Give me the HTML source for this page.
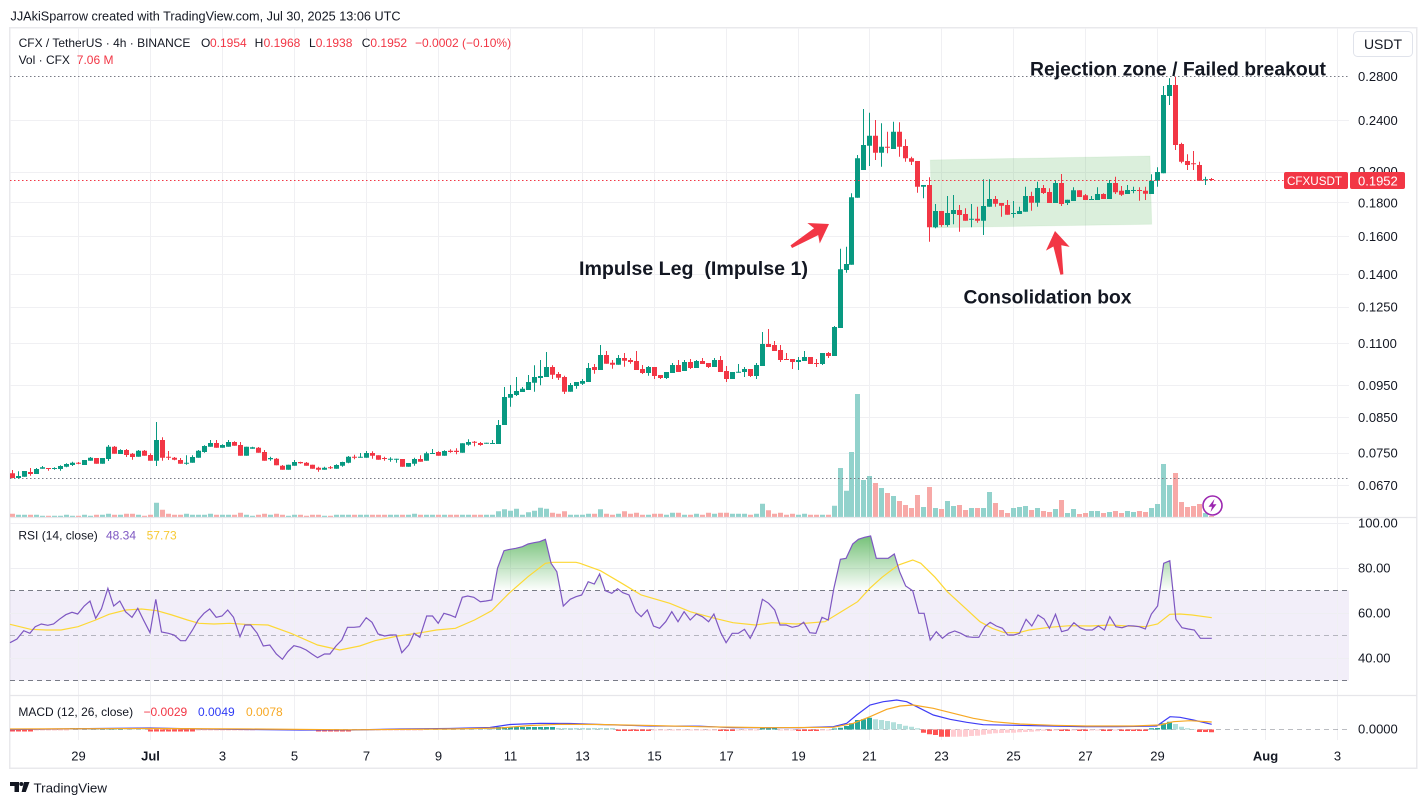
<!DOCTYPE html>
<html><head><meta charset="utf-8">
<style>
html,body{margin:0;padding:0;background:#fff;}
svg{display:block;font-family:"Liberation Sans",Arial,sans-serif;}
</style></head><body>
<svg width="1427" height="804" viewBox="0 0 1427 804" xmlns="http://www.w3.org/2000/svg">
<defs>
<linearGradient id="gg" x1="0" y1="530" x2="0" y2="591" gradientUnits="userSpaceOnUse">
<stop offset="0" stop-color="#4caf50" stop-opacity="0.85"/>
<stop offset="1" stop-color="#4caf50" stop-opacity="0"/>
</linearGradient>
<clipPath id="ob"><rect x="10" y="518" width="1339" height="72.5"/></clipPath>
</defs>
<rect width="1427" height="804" fill="#fff"/>

<text x="10.5" y="20.5" font-size="13" fill="#131722" textLength="390" lengthAdjust="spacingAndGlyphs">JJAkiSparrow created with TradingView.com, Jul 30, 2025 13:06 UTC</text>

<rect x="9.75" y="27.75" width="1407" height="740.5" fill="none" stroke="#e9e9ec" stroke-width="1.5"/>

<g stroke="#f0f0f3" stroke-width="1">
<line x1="10" x2="1349" y1="120.5" y2="120.5"/>
<line x1="10" x2="1349" y1="172.5" y2="172.5"/>
<line x1="10" x2="1349" y1="202.5" y2="202.5"/>
<line x1="10" x2="1349" y1="236.5" y2="236.5"/>
<line x1="10" x2="1349" y1="274.5" y2="274.5"/>
<line x1="10" x2="1349" y1="307.5" y2="307.5"/>
<line x1="10" x2="1349" y1="343.5" y2="343.5"/>
<line x1="10" x2="1349" y1="385.5" y2="385.5"/>
<line x1="10" x2="1349" y1="417.5" y2="417.5"/>
<line x1="10" x2="1349" y1="453.5" y2="453.5"/>
<line x1="10" x2="1349" y1="485.5" y2="485.5"/>
</g>

<rect x="10" y="590.5" width="1339" height="90" fill="#7e57c2" fill-opacity="0.1"/>
<g stroke="#eeeef2" stroke-width="1">
<line x1="10" x2="1349" y1="523.5" y2="523.5"/>
<line x1="10" x2="1349" y1="568.5" y2="568.5"/>
<line x1="10" x2="1349" y1="613.5" y2="613.5"/>
<line x1="10" x2="1349" y1="658.5" y2="658.5"/>
</g>
<path stroke="#f0f0f3" stroke-width="1" d="M78.5 28V740M150.5 28V740M222.5 28V740M294.5 28V740M366.5 28V740M438.5 28V740M510.5 28V740M582.5 28V740M654.5 28V740M726.5 28V740M798.5 28V740M869.5 28V740M941.5 28V740M1013.5 28V740M1085.5 28V740M1157.5 28V740M1265.5 28V740M1337.5 28V740"/>

<polygon points="930.3,160 1150,156 1151.7,224.3 932,227.7" fill="#4caf50" fill-opacity="0.2" stroke="#4caf50" stroke-opacity="0.08"/>

<!-- volume -->
<path fill="none" stroke="#92d2cc" stroke-width="5" d="M18.5 517V514.7M24.5 517V514.7M36.5 517V514.7M42.5 517V515.7M54.5 517V515.7M60.5 517V515.7M66.5 517V514.7M72.5 517V515.7M84.5 517V514.7M90.5 517V515.7M102.5 517V514.7M108.5 517V513.7M120.5 517V514.7M138.5 517V514.7M156.5 517V502.7M186.5 517V513.7M192.5 517V514.7M198.5 517V514.7M204.5 517V514.7M210.5 517V513.7M222.5 517V514.7M228.5 517V514.7M246.5 517V514.7M252.5 517V515.7M270.5 517V514.7M288.5 517V515.7M294.5 517V514.7M324.5 517V515.7M336.5 517V514.7M342.5 517V514.7M348.5 517V514.7M360.5 517V514.7M366.5 517V514.7M390.5 517V514.7M396.5 517V514.7M408.5 517V514.7M414.5 517V513.7M426.5 517V514.7M432.5 517V514.7M444.5 517V514.7M462.5 517V514.7M468.5 517V514.7M486.5 517V514.7M492.5 517V514.7M498.5 517V511.3M504.5 517V509.3M510.5 517V510.7M516.5 517V508.7M522.5 517V514.7M528.5 517V512.3M534.5 517V510.7M540.5 517V507.7M546.5 517V508.7M570.5 517V514.7M576.5 517V514.7M582.5 517V514.7M588.5 517V513.7M600.5 517V509.3M618.5 517V513.7M648.5 517V514.7M666.5 517V514.7M672.5 517V512.7M684.5 517V514.7M696.5 517V513.7M714.5 517V513.7M732.5 517V513.7M738.5 517V513.7M744.5 517V513.7M756.5 517V513.7M762.5 517V503.7M798.5 517V514.7M804.5 517V513.7M822.5 517V514.7M834.5 517V505.7M840.5 517V468M846.5 517V490.7M851.5 517V452M857.5 517V394M863.5 517V480M869.5 517V476M881.5 517V488M893.5 517V496M923.5 517V507M935.5 517V508M947.5 517V501M953.5 517V506M971.5 517V508M983.5 517V508M989.5 517V492M1013.5 517V508M1019.5 517V507M1025.5 517V506M1037.5 517V508M1055.5 517V509M1067.5 517V513M1073.5 517V509M1091.5 517V511M1097.5 517V511M1109.5 517V512M1127.5 517V511M1133.5 517V512M1151.5 517V508M1157.5 517V504M1163.5 517V464M1169.5 517V485M1205.5 517V513"/>
<path fill="none" stroke="#f7a9a7" stroke-width="5" d="M12.5 517V513.7M30.5 517V514.7M48.5 517V515.7M78.5 517V515.7M96.5 517V514.7M114.5 517V514.7M126.5 517V513.7M132.5 517V513.7M144.5 517V515.7M150.5 517V514.7M162.5 517V509.7M168.5 517V513.7M174.5 517V514.7M180.5 517V514.7M216.5 517V514.7M234.5 517V514.7M240.5 517V512.7M258.5 517V514.7M264.5 517V513.7M276.5 517V513.7M282.5 517V514.7M300.5 517V514.7M306.5 517V515.7M312.5 517V514.7M318.5 517V514.7M330.5 517V515.7M354.5 517V514.7M372.5 517V514.7M378.5 517V514.7M384.5 517V514.7M402.5 517V514.7M420.5 517V514.7M438.5 517V514.7M450.5 517V514.7M456.5 517V514.7M474.5 517V514.7M480.5 517V514.7M552.5 517V512.7M558.5 517V513.7M564.5 517V511.3M594.5 517V513.7M606.5 517V513.7M612.5 517V514.7M624.5 517V511.3M630.5 517V513.7M636.5 517V512.7M642.5 517V514.7M654.5 517V513.7M660.5 517V513.7M678.5 517V512.7M690.5 517V514.7M702.5 517V514.7M708.5 517V512.7M720.5 517V512.7M726.5 517V512.7M750.5 517V514.7M768.5 517V510.3M774.5 517V513.7M780.5 517V512.7M786.5 517V514.7M792.5 517V513.7M810.5 517V514.7M816.5 517V514.7M828.5 517V514.7M875.5 517V483M887.5 517V493M899.5 517V501M905.5 517V505M911.5 517V508M917.5 517V495M929.5 517V487M941.5 517V509M959.5 517V505M965.5 517V510M977.5 517V508M995.5 517V503M1001.5 517V510M1007.5 517V513M1031.5 517V510M1043.5 517V511M1049.5 517V512M1061.5 517V500M1079.5 517V514M1085.5 517V513M1103.5 517V513M1115.5 517V511M1121.5 517V513M1139.5 517V511M1145.5 517V512M1175.5 517V473M1181.5 517V502M1187.5 517V507M1193.5 517V506M1199.5 517V504M1211.5 517V516"/>

<line x1="10" x2="1349" y1="478.5" y2="478.5" stroke="#787b86" stroke-width="1" stroke-dasharray="1.5 2.5"/>
<line x1="10" x2="1349" y1="76.5" y2="76.5" stroke="#787b86" stroke-width="1" stroke-dasharray="1.5 2.5"/>

<!-- green candles -->
<path fill="none" stroke="#089981" stroke-width="1" d="M18.5 471.3V478.3M24.5 471V476.7M36.5 468V474M42.5 466V468.7M54.5 467.3V469.7M60.5 465.3V470.7M66.5 463.3V467.3M72.5 461.7V466M84.5 460V465M90.5 457V460.7M102.5 458V463.7M108.5 445V461M120.5 449.3V454M138.5 450V456.7M156.5 422V466M186.5 455.3V464.7M192.5 455.3V462.7M198.5 450V457.7M204.5 445.3V452.7M210.5 440V446.7M222.5 444.3V447.7M228.5 440V446.7M246.5 446.7V455.7M252.5 446.7V448.7M270.5 456.7V460.7M288.5 464.7V469.7M294.5 460V465.7M324.5 466.7V469.7M336.5 464.3V468.7M342.5 461.7V466.7M348.5 456V463.3M360.5 453V457.7M366.5 451V457.7M390.5 457.3V461.7M396.5 458.7V462.7M408.5 463V466.7M414.5 457.7V465.7M426.5 451.7V460.7M432.5 449V454M444.5 450.3V455.7M462.5 443.3V452.7M468.5 439.3V445.7M486.5 442.7V443.7M492.5 440V443.7M498.5 420V444M504.5 387V425M510.5 385V406.7M516.5 377V396M522.5 387V392M528.5 375V390M534.5 365.3V391.7M540.5 360V385.3M546.5 352V377M570.5 383V391.7M576.5 382V388.7M582.5 379V385M588.5 363V382M600.5 345V370M618.5 355V364.7M648.5 366V375.7M666.5 372V379M672.5 363V373M684.5 360V371M696.5 360V368M714.5 358V367M732.5 372V379M738.5 364V372.7M744.5 367V377M756.5 363V379M762.5 332V366M798.5 357V370M804.5 351V361M822.5 353V365M834.5 326V356M840.5 248.7V328M846.5 246.7V272.7M851.5 193.3V264.7M857.5 155V197.7M863.5 109V170M869.5 112.7V166M881.5 123.3V166.7M893.5 121.7V149M923.5 185V198.3M935.5 204V228.3M947.5 196V226.7M953.5 195V224.3M971.5 204V227.3M983.5 179.3V235M989.5 179.3V206.7M1013.5 201V217.7M1019.5 206.7V214M1025.5 186.7V211.7M1037.5 181.7V206.7M1055.5 180V203M1067.5 199.7V205M1073.5 187.3V201M1091.5 196V200M1097.5 187.3V200M1109.5 180V199M1127.5 185V194M1133.5 186.7V193.3M1151.5 174.3V194M1157.5 167.3V186.7M1163.5 86V173.3M1169.5 78.3V105M1205.5 176.7V185"/>
<path fill="none" stroke="#089981" stroke-width="5" d="M18.5 476V478M24.5 471V476.7M36.5 469V474M42.5 467.3V468.7M54.5 468V469M60.5 466V469M66.5 464V466.7M72.5 462.7V465M84.5 460V465M90.5 457.7V460.7M102.5 458V463.7M108.5 446.7V459M120.5 450V454M138.5 450.7V456.7M156.5 440V460.7M186.5 462.7V463.7M192.5 457V462.7M198.5 450.7V457.7M204.5 446V452M210.5 443V446.7M222.5 445V447.7M228.5 442V446.7M246.5 446.7V455.7M252.5 447.3V448.7M270.5 458V459.3M288.5 464.7V469.7M294.5 462V465.7M324.5 467.7V469.7M336.5 465V468.7M342.5 462V465.7M348.5 456.7V462.7M360.5 456.7V457.7M366.5 453V457.7M390.5 458.7V459.7M396.5 458.7V459.7M408.5 463V466.7M414.5 459V463.7M426.5 453.3V460.7M432.5 453V454M444.5 451V455.7M462.5 443.3V452.7M468.5 442V444.7M486.5 442.7V443.7M492.5 443V444M498.5 425V444M504.5 397V425M510.5 394V397.7M516.5 391V395M522.5 388.7V392M528.5 382V390M534.5 377V382.7M540.5 376V378M546.5 367V377M570.5 385V391.7M576.5 382V386M582.5 381V383.7M588.5 368V382M600.5 355V370M618.5 358V364.7M648.5 367V373M666.5 372V378M672.5 365V373M684.5 362V371M696.5 361V368M714.5 360V367M732.5 372V379M738.5 371.7V372.7M744.5 369V372M756.5 365V376M762.5 344V366M798.5 360V362M804.5 357V361M822.5 353V364M834.5 327V356M840.5 269.3V328M846.5 264V270M851.5 197.3V264.7M857.5 158.3V197.7M863.5 145V170M869.5 135.7V145.7M881.5 146.7V152.7M893.5 131.7V149M923.5 185V186.7M935.5 211V227.3M947.5 213V225M953.5 210V214M971.5 218.7V219.7M983.5 206V220.7M989.5 199V206.7M1013.5 213V214M1019.5 211V214M1025.5 196V211.7M1037.5 188V202.7M1055.5 183V203M1067.5 199.7V203M1073.5 190.3V201M1091.5 199V200M1097.5 194V200M1109.5 183V199M1127.5 190V194M1133.5 190V191M1151.5 180.7V194M1157.5 172V180.7M1163.5 95V173.3M1169.5 85V96M1205.5 179.3V180.3"/>
<!-- red candles -->
<path fill="none" stroke="#f23645" stroke-width="1" d="M12.5 470V478.3M30.5 468V475.7M48.5 468V470.7M78.5 462V464.3M96.5 458V463.7M114.5 446V453.7M126.5 449V457M132.5 453V459.7M144.5 450V455.7M150.5 453.3V460.7M162.5 437.3V460.7M168.5 451V460M174.5 457V460.3M180.5 458V463.7M216.5 440V447.7M234.5 441.3V445.7M240.5 442V455.7M258.5 447V452.7M264.5 450V460.7M276.5 458V465.3M282.5 465V469.7M300.5 461.7V463.7M306.5 462V465.7M312.5 464.7V468.7M318.5 466.7V471.7M330.5 466V469M354.5 454.7V459.3M372.5 451.3V458.7M378.5 455.3V459.7M384.5 456.7V460.7M402.5 459V466.7M420.5 455.3V461.7M438.5 451.3V455.7M450.5 449.3V452.7M456.5 448.3V454.3M474.5 441V446.3M480.5 442V445.7M552.5 365.3V379M558.5 372V380M564.5 375.7V394M594.5 364V373.7M606.5 351V363.7M612.5 360V368.7M624.5 353V366.7M630.5 358V363.7M636.5 351V370M642.5 365V374M654.5 367V379M660.5 375V379M678.5 360V372M690.5 359V369M702.5 358V364M708.5 363V368M720.5 356V372M726.5 366V382M750.5 369V377M768.5 329V347M774.5 341V351M780.5 345V362M786.5 353V360M792.5 359V369M810.5 357V364M816.5 359V367M828.5 352V358M875.5 120V160M887.5 131.7V153.3M899.5 122.3V156.7M905.5 139.3V161.7M911.5 156.7V165M917.5 161V192.7M929.5 177.3V241.7M941.5 211V226.7M959.5 205V231.7M965.5 208.3V220.7M977.5 206.7V222.7M995.5 196V206.7M1001.5 203V216.7M1007.5 200V214.7M1031.5 191.7V210.7M1043.5 185V194M1049.5 188.3V203M1061.5 174V206M1079.5 190.3V197M1085.5 194V200M1103.5 193.3V199M1115.5 176.7V194M1121.5 186V196M1139.5 187.3V200.7M1145.5 186.7V200M1175.5 76.7V150M1181.5 142.7V163.3M1187.5 154.3V170M1193.5 151V170M1199.5 161.7V180.7M1211.5 178V180.7"/>
<path fill="none" stroke="#f23645" stroke-width="5" d="M12.5 473.3V478M30.5 472V474M48.5 468V469M78.5 462.7V463.7M96.5 458V463.7M114.5 446.7V453.7M126.5 450V455M132.5 453.7V457M144.5 450.7V455.7M150.5 455V460.7M162.5 440V457.7M168.5 456.7V457.7M174.5 457.7V459.7M180.5 460V463.7M216.5 443V447.7M234.5 442V445.7M240.5 445V455.7M258.5 447.7V452.7M264.5 452V460.7M276.5 458.7V465.3M282.5 465.7V469.7M300.5 462V463.3M306.5 462.7V465.7M312.5 464.7V468.7M318.5 467.7V469.7M330.5 467.3V468.3M354.5 456.7V457.7M372.5 453V455.7M378.5 455.3V459.7M384.5 458V459M402.5 459V466.7M420.5 459V461.7M438.5 452V455.7M450.5 450.7V452M456.5 450.7V452M474.5 441.7V442.7M480.5 443V445M552.5 367V374.7M558.5 374V377.7M564.5 377V391.7M594.5 367V370M606.5 355V363.7M612.5 362.7V364.7M624.5 358V360.7M630.5 360V362M636.5 361V370M642.5 369V373M654.5 367V376M660.5 375V378M678.5 365V372M690.5 362V368M702.5 361V364M708.5 363V367M720.5 360V372M726.5 371V379M750.5 369V376M768.5 344V347M774.5 345V351M780.5 350V360M786.5 359V360M792.5 359V362M810.5 357V364M816.5 363V364M828.5 353V356M875.5 135.7V152.7M887.5 146.7V147.7M899.5 131.7V146.7M905.5 146V158.3M911.5 158.3V161.7M917.5 161V186.7M929.5 185V227.3M941.5 211V225M959.5 210V215M965.5 214V220.7M977.5 218.7V220.7M995.5 199V203.7M1001.5 203V205.7M1007.5 205V214.7M1031.5 196V202.7M1043.5 188V193M1049.5 192V203M1061.5 183V204M1079.5 190.3V197M1085.5 195.3V200M1103.5 194V199M1115.5 183V192.3M1121.5 190.7V194.7M1139.5 190V191M1145.5 190.7V193.7M1175.5 85V145M1181.5 144V161.7M1187.5 161V165M1193.5 163.3V164.3M1199.5 165V180.7M1211.5 179V180"/>

<line x1="10" x2="1284" y1="180.5" y2="180.5" stroke="#f23645" stroke-width="1" stroke-dasharray="1.5 2.5"/>

<line x1="10" x2="1417" y1="517.5" y2="517.5" stroke="#e6e6ea" stroke-width="1.2"/>
<line x1="10" x2="1417" y1="695.5" y2="695.5" stroke="#e6e6ea" stroke-width="1.2"/>

<!-- RSI -->
<line x1="10" x2="1349" y1="590.5" y2="590.5" stroke="#787b86" stroke-dasharray="5 4"/>
<line x1="10" x2="1349" y1="680.5" y2="680.5" stroke="#787b86" stroke-dasharray="5 4"/>
<line x1="10" x2="1349" y1="635.5" y2="635.5" stroke="#787b86" stroke-opacity="0.5" stroke-dasharray="5 4"/>
<polygon clip-path="url(#ob)" fill="url(#gg)" points="10,590.5 10,642.7 17,639 23.7,630.7 29.9,633.3 35.2,626.7 41.3,624 47.8,625.3 53.6,624 59.3,619.3 65.8,614.7 72,612.3 77.7,614 84.2,606 90,601 95.7,618.3 101.4,609 107.9,588.3 113.7,606 119.8,601 125.5,611.7 132,617.3 137.8,608.3 143.5,620 150,632.7 155.8,599.3 161.5,632 168.4,633.3 174.1,635 180.6,640.7 185.6,640.7 192.5,630 198.2,620 204,613.3 209.7,609 216.2,617.3 222,616 227.7,610 233.5,617.3 240,636.7 244.9,625 250.7,625 257.2,633.3 263.3,646 269.8,645 276.3,654 282.4,659.3 287.8,651.7 293.9,645.7 300.4,647.3 306.2,650 311.9,654 317.6,657.7 324.5,654 329.9,654 336,646 341.8,640 347.5,627.3 354,627.3 359.7,626.7 366.2,617.7 372,622.3 378.1,634 384.6,636 390.4,635 396.1,635 401.8,652.7 408.7,645 414.1,633.3 419.8,637.3 426.7,616 432.5,616 438.2,623.3 443.9,613.3 449.7,615 455.4,617.3 462.3,597.3 467.7,596 473.8,597.3 480.3,601.7 486,601 491.8,600 497.5,568.3 504,550.7 510.1,549.3 515.9,548.3 522.4,546.7 528.1,544 533.9,542.7 539.6,541.7 545.4,539.3 551.1,563.3 556.8,571.7 563.3,606 570.2,599.3 576,596.7 581.7,595 588.2,581.7 594.3,584 599.6,574 605.3,590.7 611.8,593.3 617.6,588.7 622.9,592.7 629,595 635.9,611.7 641.2,616.7 647.3,610 653.5,626 659.6,628.3 665.7,621.7 671.8,611.7 678,621.7 684.1,611.7 690.2,620 696.3,614 702.4,616.7 708.6,621.7 713.9,614 720.8,632.7 726.1,642.7 732.2,633.3 738.4,633.3 744.5,629.3 750.2,638.3 756.3,626 762.4,599.3 768.6,603.3 774.7,610 780,625 786.1,625 792.2,627.3 798.4,626 803.7,622.3 809.8,632.7 815.9,633.3 822,617.3 828.2,620 833.9,588.3 840.4,559.3 846.1,558.3 852.7,544 858.4,539.3 864.5,537.3 870.6,536 876.3,558.3 882,558.3 888.2,558.3 894.3,554 899.6,571.7 905.7,586 912.7,590.7 918.8,613.3 924.1,613.3 930.2,640 936.3,631.7 942.4,638.3 948.6,633.3 954.7,631 960.8,633.3 966.9,636.7 972.7,637.3 978.8,637.3 984.9,626.7 990.2,622.3 996.3,626 1002.4,628.3 1007.8,635 1013.9,635 1019.6,633.3 1026.1,619.3 1031.8,626 1038,615 1044.1,619 1049.4,628.3 1055.5,614.3 1061.6,631.7 1067.8,630 1073.9,622.7 1080,627.7 1086.1,630 1092.2,630 1098.4,626 1104.5,630 1109.8,616.7 1115.9,626.7 1122,627.7 1128.2,625.7 1133.9,626 1139.2,626.7 1145.3,629 1151.4,614 1157.6,606 1163.7,563.3 1169.8,560.7 1175.9,619.3 1182,627.7 1188.2,629 1194.3,630 1200.4,638.3 1211.8,638.3 1211.8,590.5"/>
<polyline fill="none" stroke="#fdd835" stroke-width="1.2" points="10,624.3 30.6,629.3 46,630 61,630 78,626.7 95.7,620 109,614.3 126,610 141.6,609 157,610.7 172,615 187.5,620 199,623.3 214,624 229.6,623.3 245,624.3 268,625 290.9,633.3 317.6,645 339.8,650 359.7,646 375,640.7 398,636 421,632.7 436.3,630 455.4,628.3 474.5,620 491.8,610.7 509,593.3 528,576.7 545.4,563.3 553,562.3 576,562.3 580,563.3 600.4,570.7 620.8,582.7 641.2,595 669.8,603.3 690.2,611.7 714.7,618.3 733,622.7 755.5,625 771.8,622.7 796.3,624 824.9,621.7 841.2,611.7 857.6,601.7 869.8,588.3 882,577.3 898.4,565 912.7,560 920.8,563.3 935.1,577.3 947.3,591.7 963.7,606.7 980,621.7 992.2,628.3 1004.5,632.7 1018.8,632.7 1029,630 1049.4,627.3 1069.8,625.7 1090.2,626 1110.6,625 1126.9,626 1145.3,626.7 1157.6,624 1169.8,614.3 1180,614 1192.2,615 1211.8,617.7"/>
<polyline fill="none" stroke="#7e57c2" stroke-width="1.2" points="10,642.7 17,639 23.7,630.7 29.9,633.3 35.2,626.7 41.3,624 47.8,625.3 53.6,624 59.3,619.3 65.8,614.7 72,612.3 77.7,614 84.2,606 90,601 95.7,618.3 101.4,609 107.9,588.3 113.7,606 119.8,601 125.5,611.7 132,617.3 137.8,608.3 143.5,620 150,632.7 155.8,599.3 161.5,632 168.4,633.3 174.1,635 180.6,640.7 185.6,640.7 192.5,630 198.2,620 204,613.3 209.7,609 216.2,617.3 222,616 227.7,610 233.5,617.3 240,636.7 244.9,625 250.7,625 257.2,633.3 263.3,646 269.8,645 276.3,654 282.4,659.3 287.8,651.7 293.9,645.7 300.4,647.3 306.2,650 311.9,654 317.6,657.7 324.5,654 329.9,654 336,646 341.8,640 347.5,627.3 354,627.3 359.7,626.7 366.2,617.7 372,622.3 378.1,634 384.6,636 390.4,635 396.1,635 401.8,652.7 408.7,645 414.1,633.3 419.8,637.3 426.7,616 432.5,616 438.2,623.3 443.9,613.3 449.7,615 455.4,617.3 462.3,597.3 467.7,596 473.8,597.3 480.3,601.7 486,601 491.8,600 497.5,568.3 504,550.7 510.1,549.3 515.9,548.3 522.4,546.7 528.1,544 533.9,542.7 539.6,541.7 545.4,539.3 551.1,563.3 556.8,571.7 563.3,606 570.2,599.3 576,596.7 581.7,595 588.2,581.7 594.3,584 599.6,574 605.3,590.7 611.8,593.3 617.6,588.7 622.9,592.7 629,595 635.9,611.7 641.2,616.7 647.3,610 653.5,626 659.6,628.3 665.7,621.7 671.8,611.7 678,621.7 684.1,611.7 690.2,620 696.3,614 702.4,616.7 708.6,621.7 713.9,614 720.8,632.7 726.1,642.7 732.2,633.3 738.4,633.3 744.5,629.3 750.2,638.3 756.3,626 762.4,599.3 768.6,603.3 774.7,610 780,625 786.1,625 792.2,627.3 798.4,626 803.7,622.3 809.8,632.7 815.9,633.3 822,617.3 828.2,620 833.9,588.3 840.4,559.3 846.1,558.3 852.7,544 858.4,539.3 864.5,537.3 870.6,536 876.3,558.3 882,558.3 888.2,558.3 894.3,554 899.6,571.7 905.7,586 912.7,590.7 918.8,613.3 924.1,613.3 930.2,640 936.3,631.7 942.4,638.3 948.6,633.3 954.7,631 960.8,633.3 966.9,636.7 972.7,637.3 978.8,637.3 984.9,626.7 990.2,622.3 996.3,626 1002.4,628.3 1007.8,635 1013.9,635 1019.6,633.3 1026.1,619.3 1031.8,626 1038,615 1044.1,619 1049.4,628.3 1055.5,614.3 1061.6,631.7 1067.8,630 1073.9,622.7 1080,627.7 1086.1,630 1092.2,630 1098.4,626 1104.5,630 1109.8,616.7 1115.9,626.7 1122,627.7 1128.2,625.7 1133.9,626 1139.2,626.7 1145.3,629 1151.4,614 1157.6,606 1163.7,563.3 1169.8,560.7 1175.9,619.3 1182,627.7 1188.2,629 1194.3,630 1200.4,638.3 1211.8,638.3"/>

<!-- MACD -->
<line x1="10" x2="1349" y1="729.5" y2="729.5" stroke="#787b86" stroke-opacity="0.5" stroke-dasharray="5 4"/>
<path fill="none" stroke="#26a69a" stroke-width="5" d="M72.5 729.5V728M78.5 729.5V728M84.5 729.5V728M90.5 729.5V728M96.5 729.5V728M102.5 729.5V728M108.5 729.5V728M114.5 729.5V728M120.5 729.5V728M498.5 729.5V727M504.5 729.5V727M510.5 729.5V727M516.5 729.5V727M522.5 729.5V727M528.5 729.5V727M534.5 729.5V727M540.5 729.5V727M546.5 729.5V727M552.5 729.5V727M762.5 729.5V728M768.5 729.5V728M774.5 729.5V728M834.5 729.5V728.5M840.5 729.5V727.7M846.5 729.5V726M851.5 729.5V723.3M857.5 729.5V720M863.5 729.5V719.3M869.5 729.5V717.7M1151.5 729.5V728.3M1157.5 729.5V728M1163.5 729.5V723.3M1169.5 729.5V721.7"/>
<path fill="none" stroke="#b2dfdb" stroke-width="5" d="M126.5 729.5V728.5M132.5 729.5V728.5M138.5 729.5V728.5M144.5 729.5V728.5M426.5 729.5V728.5M432.5 729.5V728.5M438.5 729.5V728.5M444.5 729.5V728.5M450.5 729.5V728.5M456.5 729.5V728.5M462.5 729.5V728.5M468.5 729.5V728.5M474.5 729.5V728.5M480.5 729.5V728.5M486.5 729.5V728.5M492.5 729.5V728.5M558.5 729.5V728M564.5 729.5V728M570.5 729.5V728M576.5 729.5V728M582.5 729.5V728M588.5 729.5V728M594.5 729.5V728M600.5 729.5V728M606.5 729.5V728M612.5 729.5V728M875.5 729.5V719.3M881.5 729.5V720M887.5 729.5V721M893.5 729.5V722.3M899.5 729.5V724M905.5 729.5V725.7M911.5 729.5V726.7M917.5 729.5V728.3M1175.5 729.5V724M1181.5 729.5V726.7M1187.5 729.5V728.3M1193.5 729.5V729"/>
<path fill="none" stroke="#ff5252" stroke-width="5" d="M12.5 729.5V731.5M18.5 729.5V731.5M24.5 729.5V731.5M30.5 729.5V731.5M150.5 729.5V731.5M156.5 729.5V731.5M162.5 729.5V731.5M168.5 729.5V731.5M174.5 729.5V731.5M180.5 729.5V731.5M186.5 729.5V731.5M192.5 729.5V731.5M318.5 729.5V731.5M324.5 729.5V731.5M330.5 729.5V731.5M336.5 729.5V731.5M342.5 729.5V731.5M348.5 729.5V731.5M618.5 729.5V731M624.5 729.5V731M630.5 729.5V731M636.5 729.5V731M642.5 729.5V731M648.5 729.5V731M720.5 729.5V731M726.5 729.5V731M732.5 729.5V731M798.5 729.5V731M804.5 729.5V731M810.5 729.5V731M816.5 729.5V731M923.5 729.5V732.7M929.5 729.5V734.3M935.5 729.5V735M941.5 729.5V736.7M947.5 729.5V736.7M1049.5 729.5V730.7M1061.5 729.5V731M1067.5 729.5V731M1079.5 729.5V731M1085.5 729.5V731M1103.5 729.5V731M1109.5 729.5V731M1121.5 729.5V731M1127.5 729.5V731M1133.5 729.5V731M1139.5 729.5V731M1145.5 729.5V731M1199.5 729.5V732M1205.5 729.5V732M1211.5 729.5V732.3"/>
<path fill="none" stroke="#ffcdd2" stroke-width="5" d="M36.5 729.5V730.5M42.5 729.5V730.5M48.5 729.5V730.5M54.5 729.5V730.5M60.5 729.5V730.5M66.5 729.5V730.5M198.5 729.5V730.5M204.5 729.5V730.5M210.5 729.5V730.5M216.5 729.5V730.5M222.5 729.5V730.5M228.5 729.5V730.5M234.5 729.5V730.5M240.5 729.5V730.5M246.5 729.5V730.5M252.5 729.5V730.5M354.5 729.5V730.5M360.5 729.5V730.5M366.5 729.5V730.5M372.5 729.5V730.5M378.5 729.5V730.5M384.5 729.5V730.5M390.5 729.5V730.5M396.5 729.5V730.5M402.5 729.5V730.5M408.5 729.5V730.5M414.5 729.5V730.5M420.5 729.5V730.5M654.5 729.5V730.5M660.5 729.5V730.5M666.5 729.5V730.5M672.5 729.5V730.5M678.5 729.5V730.5M684.5 729.5V730.5M690.5 729.5V730.5M696.5 729.5V730.5M702.5 729.5V730.5M708.5 729.5V730.5M714.5 729.5V730.5M738.5 729.5V730.5M744.5 729.5V730.5M750.5 729.5V730.5M756.5 729.5V730.5M780.5 729.5V730.5M786.5 729.5V730.5M792.5 729.5V730.5M822.5 729.5V730.5M828.5 729.5V730.5M953.5 729.5V736.7M959.5 729.5V736.7M965.5 729.5V736.7M971.5 729.5V736M977.5 729.5V735.7M983.5 729.5V734.7M989.5 729.5V733.7M995.5 729.5V733.3M1001.5 729.5V733M1007.5 729.5V732.7M1013.5 729.5V732.7M1019.5 729.5V732.3M1025.5 729.5V732M1031.5 729.5V731.7M1037.5 729.5V731.3M1043.5 729.5V730.7M1055.5 729.5V730.5M1073.5 729.5V730.5M1091.5 729.5V730.5M1097.5 729.5V730.5M1115.5 729.5V730.5"/>
<polyline fill="none" stroke="#3f3df5" stroke-width="1.2" points="10,729.5 100,728.5 150,728 200,729 250,729.5 300,730 350,730 400,729 450,728.5 490,727.5 510,724.5 540,723.3 570,723.5 600,724.5 650,726 700,726.2 733,727.7 800,727.7 833.3,726.7 846.7,723.3 856.7,715 870,705 883.3,701.7 896.7,700 906.7,701.7 920,708.3 933.3,715 950,719.3 966.7,722.3 983.3,724.7 1016.7,725.3 1050,726 1083.3,726.7 1116.7,726.7 1156.7,726 1170,716.7 1180,717.3 1193.3,720 1211.7,724.3"/>
<polyline fill="none" stroke="#f7a823" stroke-width="1.2" points="10,729 150,728.5 250,729 350,729.8 450,729 500,728 530,725.5 560,724.3 600,724.5 650,725.5 700,726.7 766.7,727.7 833.3,727.3 853.3,723.3 870,716.7 886.7,709.3 900,706 913.3,705 933.3,708.3 953.3,713.3 973.3,718.3 993.3,721.7 1020,724 1053.3,725.3 1086.7,726 1133.3,726 1160,725 1173.3,721.7 1190,720.7 1211.7,722"/>

<!-- annotations -->
<text x="1030" y="75.5" font-size="19" font-weight="bold" fill="#131722" textLength="296" lengthAdjust="spacingAndGlyphs">Rejection zone / Failed breakout</text>
<text x="579" y="275" font-size="19" font-weight="bold" fill="#131722" textLength="229" lengthAdjust="spacingAndGlyphs" xml:space="preserve" style="white-space:pre">Impulse Leg  (Impulse 1)</text>
<text x="963.5" y="303.3" font-size="19" font-weight="bold" fill="#131722" textLength="168" lengthAdjust="spacingAndGlyphs">Consolidation box</text>
<g fill="#f23645">
<polygon transform="translate(829,224) rotate(-31)" points="0,0 -18,-12 -15,-4 -44,-1.5 -44,1.5 -15,4 -18,12"/>
<polygon transform="translate(1055,231) rotate(-99)" points="0,0 -18,-12 -15,-4 -44,-1.5 -44,1.5 -15,4 -18,12"/>
</g>

<circle cx="1212.5" cy="505.5" r="9.5" fill="#fff" stroke="#9c27b0" stroke-width="1.6"/>
<polygon points="1214.5,499 1208.5,506.8 1212,506.8 1210.5,512 1216.5,504.2 1213,504.2" fill="#9c27b0"/>

<text y="47" font-size="12" fill="#131722"><tspan x="18.6">CFX / TetherUS · 4h · BINANCE</tspan><tspan x="201">O</tspan><tspan x="210" fill="#f23645">0.1954</tspan><tspan x="254.6">H</tspan><tspan x="263.6" fill="#f23645">0.1968</tspan><tspan x="309">L</tspan><tspan x="315.7" fill="#f23645">0.1938</tspan><tspan x="361.8">C</tspan><tspan x="370.4" fill="#f23645">0.1952</tspan><tspan x="415" fill="#f23645">−0.0002 (−0.10%)</tspan></text>
<text y="64" font-size="12" fill="#131722"><tspan x="18.6">Vol · CFX</tspan><tspan x="76.8" fill="#f23645">7.06 M</tspan></text>
<text y="539.5" font-size="12" fill="#131722"><tspan x="18.4">RSI (14, close)</tspan><tspan x="106" fill="#7e57c2">48.34</tspan><tspan x="146.6" fill="#f7c933">57.73</tspan></text>
<text y="716" font-size="12" fill="#131722"><tspan x="18.4">MACD (12, 26, close)</tspan><tspan x="143.5" fill="#f23645">−0.0029</tspan><tspan x="198" fill="#2f3cf5">0.0049</tspan><tspan x="246" fill="#f7a823">0.0078</tspan></text>

<g font-size="13" fill="#131722">
<text x="1358" y="81">0.2800</text>
<text x="1358" y="125">0.2400</text>
<text x="1358" y="176">0.2000</text>
<text x="1358" y="207.4">0.1800</text>
<text x="1358" y="241.1">0.1600</text>
<text x="1358" y="279.2">0.1400</text>
<text x="1358" y="311.7">0.1250</text>
<text x="1358" y="348.2">0.1100</text>
<text x="1358" y="390.1">0.0950</text>
<text x="1358" y="421.9">0.0850</text>
<text x="1358" y="457.7">0.0750</text>
<text x="1358" y="490">0.0670</text>
<text x="1358" y="527.5">100.00</text>
<text x="1358" y="572.5">80.00</text>
<text x="1358" y="617.5">60.00</text>
<text x="1358" y="662.5">40.00</text>
<text x="1358" y="733.5">0.0000</text>
</g>
<rect x="1353.5" y="31.5" width="59" height="25" rx="4" fill="#fff" stroke="#e0e3eb"/>
<text x="1383" y="49" font-size="14" fill="#131722" text-anchor="middle">USDT</text>
<rect x="1284" y="172" width="64" height="17" rx="2" fill="#f23645"/>
<text x="1287" y="185" font-size="12" fill="#fff" textLength="55" lengthAdjust="spacingAndGlyphs">CFXUSDT</text>
<rect x="1350" y="172" width="55" height="17" rx="2" fill="#f23645"/>
<text x="1358" y="185.5" font-size="13" fill="#fff">0.1952</text>

<g font-size="13" fill="#131722" text-anchor="middle">
<text x="78.5" y="760.5">29</text>
<text x="150.5" y="760.5" font-weight="bold">Jul</text>
<text x="222.5" y="760.5">3</text>
<text x="294.5" y="760.5">5</text>
<text x="366.5" y="760.5">7</text>
<text x="438.5" y="760.5">9</text>
<text x="510.5" y="760.5">11</text>
<text x="582.5" y="760.5">13</text>
<text x="654.5" y="760.5">15</text>
<text x="726.5" y="760.5">17</text>
<text x="798.5" y="760.5">19</text>
<text x="869.5" y="760.5">21</text>
<text x="941.5" y="760.5">23</text>
<text x="1013.5" y="760.5">25</text>
<text x="1085.5" y="760.5">27</text>
<text x="1157.5" y="760.5">29</text>
<text x="1265.5" y="760.5" font-weight="bold">Aug</text>
<text x="1337.5" y="760.5">3</text>
</g>

<g fill="#131722">
<rect x="10" y="782" width="9" height="4"/>
<rect x="14.5" y="782" width="4.5" height="10"/>
<circle cx="21.3" cy="784" r="2"/>
<polygon points="24,782 29.5,782 25.8,792 21.6,792"/>
</g>
<text x="33.5" y="792.3" font-size="13" fill="#131722" textLength="73.5" lengthAdjust="spacingAndGlyphs">TradingView</text>
</svg>
</body></html>
